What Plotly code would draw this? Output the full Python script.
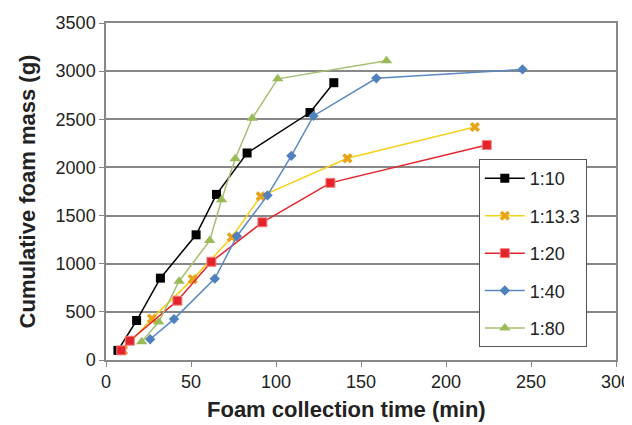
import plotly.graph_objects as go

series_names = ["1:10", "1:13.3", "1:20", "1:40", "1:80"]

t_110 = [7, 18, 32, 53, 65, 83, 120, 134]
m_110 = [100, 410, 850, 1300, 1720, 2150, 2570, 2880]

t_1133 = [10, 27, 51, 74, 91, 142, 217]
m_1133 = [100, 430, 840, 1275, 1700, 2095, 2420]

t_120 = [9, 14, 42, 62, 92, 132, 224]
m_120 = [100, 200, 616, 1020, 1430, 1840, 2233]

t_140 = [26, 40, 64, 77, 95, 109, 122, 159, 245]
m_140 = [215, 425, 845, 1285, 1710, 2120, 2535, 2925, 3018]

t_180 = [21, 31, 43, 61, 68, 76, 86, 101, 165]
m_180 = [190, 395, 818, 1240, 1665, 2090, 2510, 2920, 3108]

x_ticks = [0, 50, 100, 150, 200, 250, 300]
y_ticks = [0, 500, 1000, 1500, 2000, 2500, 3000, 3500]

x_title = "Foam collection time (min)"
y_title = "Cumulative foam mass (g)"

styles = [
    dict(line=dict(color="#000000", width=1.5), marker=dict(symbol="square", size=9, color="#000000")),
    dict(line=dict(color="#F7D117", width=1.5), marker=dict(symbol="x", size=9, color="#E8A317")),
    dict(line=dict(color="#E3242B", width=1.5), marker=dict(symbol="square", size=9, color="#E3242B",
                                                             line=dict(color="#F58080", width=1))),
    dict(line=dict(color="#5B87C3", width=1.5), marker=dict(symbol="diamond", size=8, color="#4F81BD")),
    dict(line=dict(color="#A7BE72", width=1.5), marker=dict(symbol="triangle-up", size=10, color="#9BBB59")),
]
data = [(t_110, m_110), (t_1133, m_1133), (t_120, m_120), (t_140, m_140), (t_180, m_180)]

fig = go.Figure()
for name, (xs, ys), st in zip(series_names, data, styles):
    fig.add_trace(go.Scatter(x=xs, y=ys, mode="lines+markers", name=name,
                             legendgroup=name, **st))

fig.update_layout(
    width=624, height=417,
    margin=dict(l=98, r=16, t=15, b=65),
    paper_bgcolor="white", plot_bgcolor="white",
    font=dict(family="Liberation Sans, Arial, sans-serif", size=18, color="#222222"),
    showlegend=True,
    legend=dict(x=0.731, y=0.596, xanchor="left", yanchor="top",
                bgcolor="white", bordercolor="#555555", borderwidth=1,
                font=dict(size=18, color="#222222"),
                traceorder="grouped", tracegroupgap=11,
                itemwidth=40),
    annotations=[dict(text="<b>" + x_title + "</b>", xref="paper", yref="paper",
                      x=0.4725, y=-0.148, xanchor="center", yanchor="middle",
                      showarrow=False, font=dict(size=22, color="#222222"))],
)
fig.update_xaxes(
    range=[0, 300], tickvals=x_ticks, ticktext=[str(v) for v in x_ticks],
    showgrid=False, zeroline=False, automargin=False,
    showline=True, linecolor="#888888", linewidth=1.5, mirror=True,
    ticks="outside", ticklen=5, tickcolor="#888888",
)
fig.update_yaxes(
    range=[0, 3500], tickvals=y_ticks, ticktext=[str(v) for v in y_ticks],
    showgrid=True, gridcolor="#888888", gridwidth=1.5, zeroline=False, automargin=False,
    showline=True, linecolor="#888888", linewidth=1.5, mirror=True,
    ticks="outside", ticklen=5, tickcolor="#888888",
    title=dict(text="<b>" + y_title + "</b>", font=dict(size=22), standoff=14),
)

fig.write_html("out.html")
